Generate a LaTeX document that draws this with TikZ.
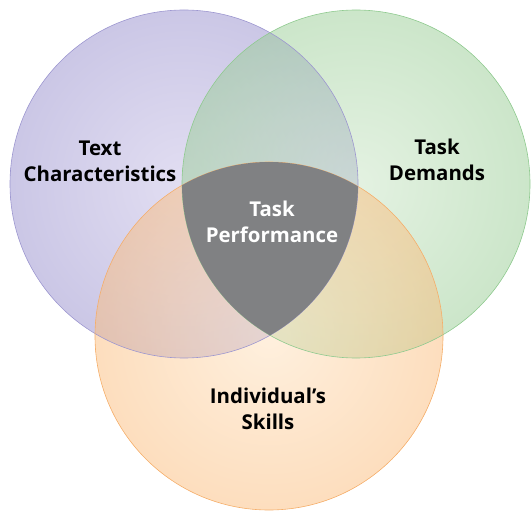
\documentclass[tikz,border=0pt]{standalone}
\usepackage{fontspec}
\setmainfont{Open Sans}
\definecolor{purplein}{HTML}{C5BDE5}
\definecolor{purpleout}{HTML}{978FCD}
\definecolor{purpleline}{HTML}{9D97D0}
\definecolor{greenin}{HTML}{C9E5C5}
\definecolor{greenout}{HTML}{99CD95}
\definecolor{greenline}{HTML}{8FCA8F}
\definecolor{orangein}{HTML}{FFE1BD}
\definecolor{orangeout}{HTML}{FBBD7D}
\definecolor{orangeline}{HTML}{F5AE6A}
\definecolor{coregray}{HTML}{808183}
\begin{document}
\begin{tikzpicture}[x=1bp,y=-1bp,
    lbl/.style={align=center,font=\bfseries\fontsize{20.5}{26}\selectfont}]
    \useasboundingbox (0,0) rectangle (531,512);
    \coordinate (pc) at (184,184);
    \coordinate (gc) at (356,184);
    \coordinate (oc) at (269,336);

    \shade[inner color=purplein,outer color=purpleout,fill opacity=0.5] (pc) circle (174);
    \shade[inner color=greenin,outer color=greenout,fill opacity=0.5] (gc) circle (174);
    \shade[inner color=orangein,outer color=orangeout,fill opacity=0.5] (oc) circle (174);

    \draw[purpleline,line width=0.6bp] (pc) circle (174);
    \draw[greenline,line width=0.6bp] (gc) circle (174);
    \draw[orangeline,line width=0.6bp] (oc) circle (174);

    \begin{scope}
      \clip (pc) circle (174);
      \clip (gc) circle (174);
      \fill[coregray] (oc) circle (174);
    \end{scope}

    \node[lbl] (text) at (100,161) {Text\\Characteristics};
    \node[lbl] (demands) at (437,160) {Task\\Demands};
    \node[lbl,white] (perf) at (272,222) {Task\\Performance};
    \node[lbl] (skills) at (268,409) {Individual’s\\Skills};
  \end{tikzpicture}
\end{document}
